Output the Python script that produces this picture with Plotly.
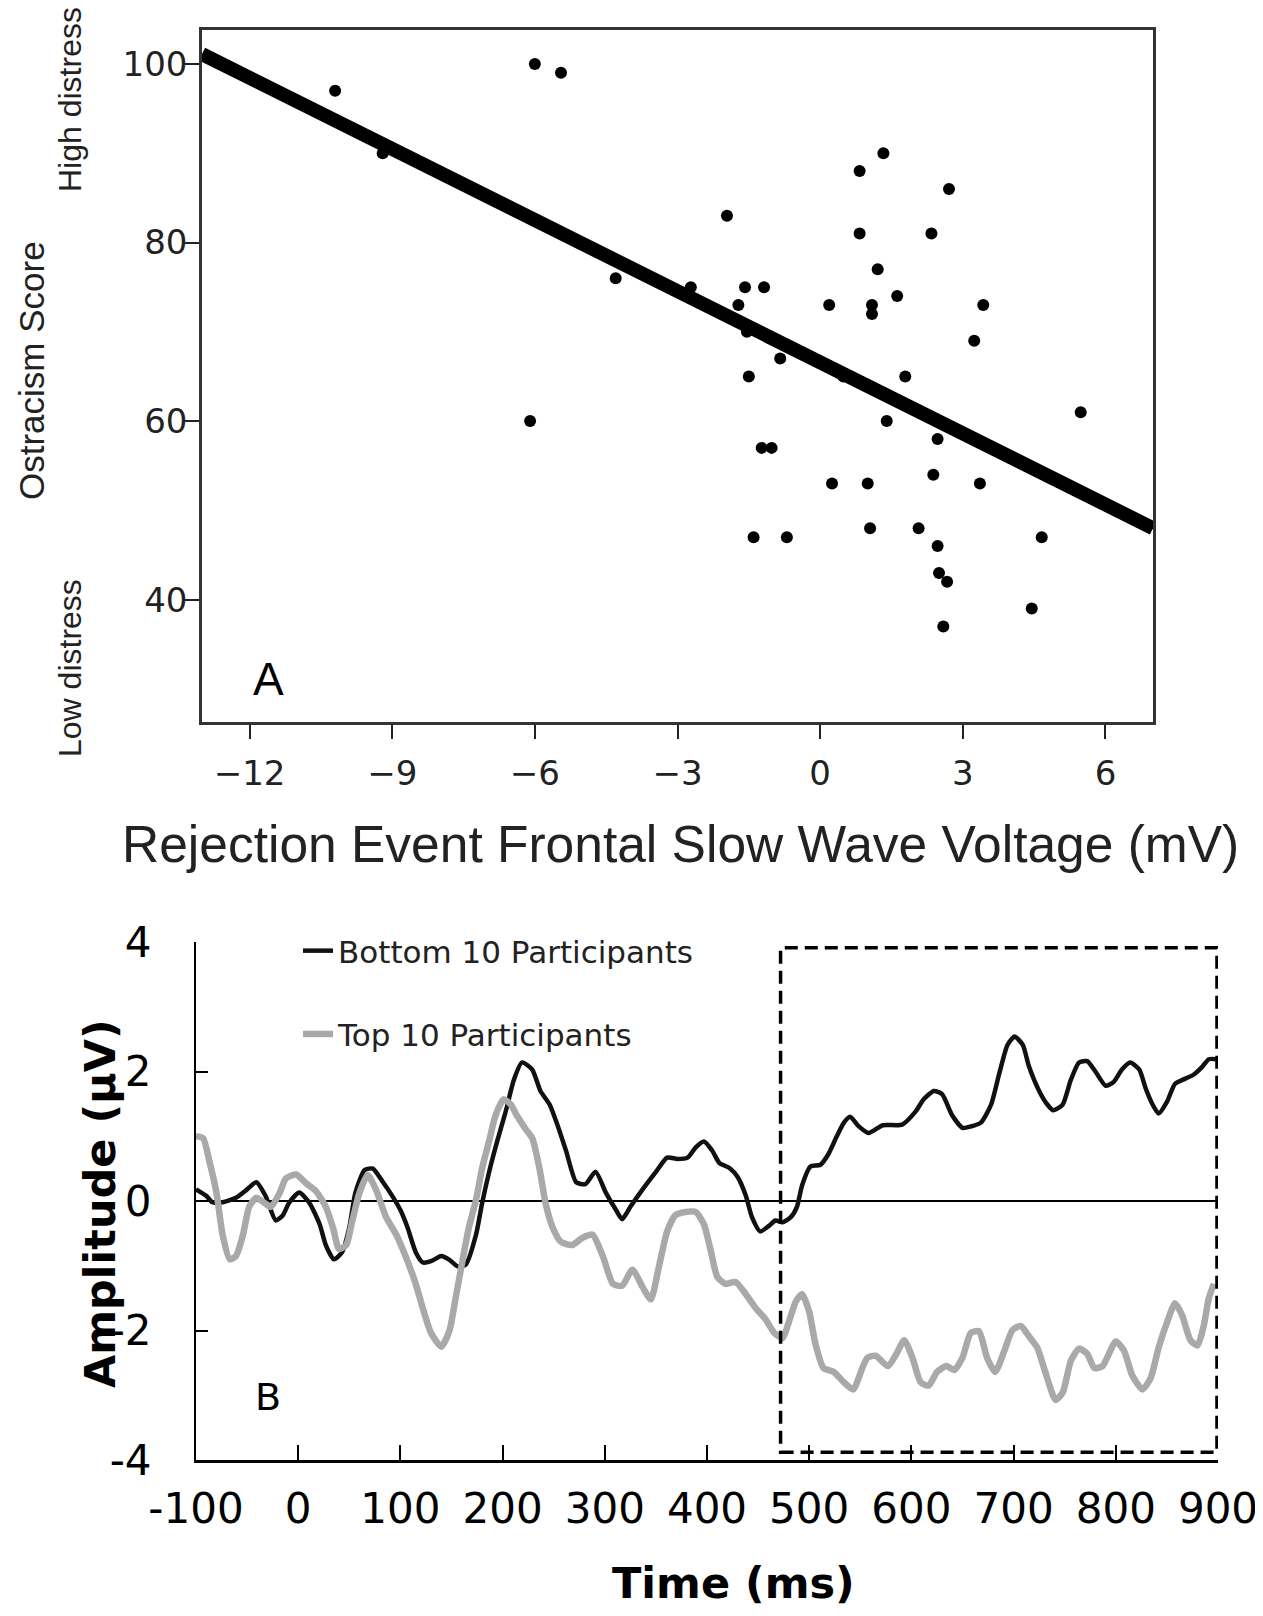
import plotly.graph_objects as go

# ---------------- Panel A data ----------------
voltage = [-10.2, -9.2, -6.0, -5.45, -4.3, -2.72, -1.96, 1.33, 0.83, 2.71, 0.83, 2.34, 1.21,
           -1.58, -1.18, -1.72, 0.19, 1.09, 1.09, 1.62, 3.43, 3.24, -1.54, -0.84, -1.5, 1.79,
           0.49, 5.48, 1.40, 2.47, -1.23, -1.02, 0.25, 1.0, 2.38, 3.36, 1.05, 2.07, -1.40,
           -0.70, 4.66, 2.47, 2.5, 2.67, 4.45, 2.59, -6.1]
score = [97, 90, 100, 99, 76, 75, 83, 90, 88, 86, 81, 81, 77,
         75, 75, 73, 73, 73, 72, 74, 73, 69, 70, 67, 65, 65,
         65, 61, 60, 58, 57, 57, 53, 53, 54, 53, 48, 48, 47,
         47, 47, 46, 43, 42, 39, 37, 60]
fit_x = [-13, 7]
fit_y = [101.1, 48.0]
a_xticks = [-12, -9, -6, -3, 0, 3, 6]
a_yticks = [40, 60, 80, 100]

# ---------------- Panel B data ----------------
bottom_t = [-100, -90, -84, -74, -61, -50, -41, -32, -22, -15, -9, 1, 11, 21, 27, 35, 43, 50, 56,
            65, 73, 83, 92, 100, 107, 115, 122, 130, 140, 148, 156, 164, 174, 180, 187, 195, 203,
            211, 219, 229, 237, 246, 254, 262, 272, 281, 291, 301, 311, 317, 325, 337, 350, 361,
            371, 381, 389, 397, 405, 412, 422, 430, 438, 444, 452, 461, 467, 474, 482, 488, 493,
            501, 511, 519, 527, 534, 540, 548, 558, 572, 591, 604, 612, 622, 630, 640, 650, 658,
            668, 678, 686, 694, 701, 709, 715, 725, 733, 739, 748, 756, 764, 772, 780, 790, 798,
            806, 814, 823, 829, 836, 842, 850, 858, 868, 876, 885, 891, 898]
bottom_v = [0.18, 0.08, -0.02, -0.02, 0.05, 0.18, 0.29, 0.08, -0.30, -0.22, -0.03, 0.13, -0.03,
            -0.36, -0.68, -0.90, -0.79, -0.41, 0.13, 0.48, 0.50, 0.29, 0.08, -0.14, -0.41, -0.79,
            -0.95, -0.93, -0.85, -0.91, -1.01, -0.98, -0.52, -0.03, 0.46, 0.94, 1.38, 1.87, 2.14,
            2.03, 1.70, 1.49, 1.16, 0.78, 0.29, 0.26, 0.45, 0.13, -0.14, -0.28, -0.09, 0.18, 0.45,
            0.67, 0.65, 0.67, 0.83, 0.92, 0.78, 0.59, 0.51, 0.37, 0.08, -0.25, -0.47, -0.38, -0.30,
            -0.33, -0.25, -0.09, 0.24, 0.53, 0.56, 0.73, 1.00, 1.21, 1.30, 1.16, 1.05, 1.17, 1.18,
            1.38, 1.57, 1.70, 1.65, 1.32, 1.13, 1.15, 1.21, 1.49, 1.97, 2.41, 2.54, 2.41, 2.08,
            1.70, 1.49, 1.40, 1.49, 1.87, 2.14, 2.16, 2.00, 1.78, 1.84, 2.03, 2.14, 2.03, 1.75,
            1.49, 1.35, 1.53, 1.81, 1.89, 1.95, 2.08, 2.19, 2.19]

top_t = [-100, -93, -87, -80, -74, -67, -61, -54, -48, -41, -33, -27, -18, -12, -2, 8, 17, 27, 34,
         40, 47, 53, 60, 68, 76, 86, 96, 105, 115, 122, 130, 140, 148, 154, 161, 167, 174, 180,
         187, 193, 201, 208, 214, 223, 229, 236, 242, 249, 257, 268, 278, 288, 298, 308, 317,
         327, 337, 345, 353, 361, 369, 379, 389, 397, 404, 410, 418, 428, 438, 448, 457, 466,
         474, 480, 487, 493, 500, 506, 514, 524, 534, 543, 552, 557, 565, 577, 585, 593, 601,
         609, 617, 625, 634, 642, 650, 658, 666, 674, 682, 691, 699, 707, 715, 723, 731, 741,
         748, 756, 764, 772, 779, 787, 800, 808, 816, 826, 834, 842, 850, 858, 865, 873, 880,
         886, 891, 896]
top_v = [1.00, 0.97, 0.62, 0.13, -0.52, -0.90, -0.85, -0.52, -0.09, 0.05, -0.03, -0.09, 0.13,
         0.35, 0.41, 0.27, 0.16, -0.09, -0.41, -0.74, -0.68, -0.30, 0.13, 0.40, 0.18, -0.25,
         -0.52, -0.85, -1.28, -1.66, -2.04, -2.25, -2.00, -1.50, -0.90, -0.41, 0.02, 0.51, 0.94,
         1.32, 1.57, 1.49, 1.32, 1.10, 0.97, 0.51, -0.03, -0.41, -0.63, -0.68, -0.57, -0.52,
         -0.85, -1.28, -1.31, -1.06, -1.33, -1.52, -1.01, -0.47, -0.22, -0.17, -0.17, -0.36,
         -0.79, -1.17, -1.28, -1.25, -1.44, -1.66, -1.82, -2.04, -2.12, -1.87, -1.55, -1.44,
         -1.71, -2.20, -2.58, -2.64, -2.80, -2.91, -2.58, -2.42, -2.39, -2.55, -2.37, -2.15,
         -2.42, -2.80, -2.85, -2.64, -2.55, -2.61, -2.42, -2.04, -2.01, -2.42, -2.64, -2.31,
         -1.99, -1.93, -2.09, -2.26, -2.64, -3.07, -2.96, -2.47, -2.28, -2.36, -2.58, -2.55,
         -2.17, -2.31, -2.69, -2.91, -2.74, -2.26, -1.88, -1.58, -1.77, -2.15, -2.23, -1.93,
         -1.50, -1.28]

window_t = [472, 899]
window_v = [-3.88, 3.91]

b_xticks = [-100, 0, 100, 200, 300, 400, 500, 600, 700, 800, 900]
b_xlabels = ["-100", "0", "100", "200", "300", "400", "500", "600", "700", "800", "900"]
b_yticks = [-4, -2, 0, 2, 4]
b_ylabels = ["-4", "-2", "0", "2", "4"]

W, H = 1263, 1616
OX, OY = 8, 8  # page body margin offset


def fx(px):
    return (px - OX) / W


def fy(py):
    return 1 - (py - OY) / H


SANS = "Liberation Sans, Arial, sans-serif"
DEJA = "DejaVu Sans, Verdana, sans-serif"

fig = go.Figure()

# Panel A
fig.add_trace(go.Scatter(x=fit_x, y=fit_y, mode="lines", line=dict(color="black", width=14),
                         showlegend=False, xaxis="x", yaxis="y", hoverinfo="skip"))
fig.add_trace(go.Scatter(x=voltage, y=score, mode="markers",
                         marker=dict(color="black", size=12), showlegend=False,
                         xaxis="x", yaxis="y"))

# Panel B
fig.add_trace(go.Scatter(x=bottom_t, y=bottom_v, mode="lines", name="Bottom 10 Participants",
                         line=dict(color="#111111", width=4.5, shape="spline", smoothing=0.6),
                         legendgroup="b", xaxis="x2", yaxis="y2"))
fig.add_trace(go.Scatter(x=top_t, y=top_v, mode="lines", name="Top 10 Participants",
                         line=dict(color="#a9a9a9", width=6.5, shape="spline", smoothing=0.6),
                         legendgroup="t", xaxis="x2", yaxis="y2"))

fig.add_shape(type="rect", xref="x2", yref="y2", x0=window_t[0], x1=window_t[1],
              y0=window_v[0], y1=window_v[1],
              line=dict(color="black", width=3.5, dash="13px,7px"), fillcolor="rgba(0,0,0,0)")

fig.update_layout(
    width=W, height=H,
    margin=dict(l=0, r=0, t=0, b=0, autoexpand=False),
    paper_bgcolor="white", plot_bgcolor="white",
    font=dict(family=DEJA, color="#111"),
    xaxis=dict(domain=[fx(202), fx(1153)], anchor="y", range=[-13, 7], tickvals=a_xticks,
               ticks="outside", ticklen=14, tickwidth=2, tickcolor="#222",
               showline=True, linecolor="#333", linewidth=2.5, mirror=True,
               showgrid=False, zeroline=False, ticklabelstandoff=5, automargin=False,
               tickfont=dict(family=DEJA, size=34, color="#222")),
    yaxis=dict(domain=[fy(722), fy(30)], anchor="x", range=[26.3, 103.8],
               tickvals=a_yticks, ticks="outside", ticklen=14, tickwidth=2, tickcolor="#222",
               showline=True, linecolor="#333", linewidth=2.5, mirror=True,
               showgrid=False, zeroline=False, ticklabelstandoff=-9, automargin=False,
               tickfont=dict(family=DEJA, size=34, color="#222")),
    xaxis2=dict(domain=[fx(196), fx(1218)], anchor="y2", range=[-100, 900],
                tickvals=b_xticks, ticktext=b_xlabels, ticks="inside", ticklen=15,
                tickwidth=1.5, tickcolor="black", showline=True, linecolor="black",
                linewidth=2.5, showgrid=False, zeroline=False, ticklabelstandoff=10,
                automargin=False,
                tickfont=dict(family=DEJA, size=42, color="black")),
    yaxis2=dict(domain=[fy(1460), fy(942)], anchor="x2", range=[-4, 4],
                tickvals=b_yticks, ticktext=b_ylabels, ticks="inside", ticklen=12,
                tickwidth=1.5, tickcolor="black", showline=True, linecolor="black",
                linewidth=2, showgrid=False, zeroline=True, zerolinecolor="black",
                zerolinewidth=1.5, ticklabelstandoff=34, automargin=False,
                tickfont=dict(family=DEJA, size=42, color="black")),
    legend=dict(x=fx(298), y=fy(924), xanchor="left", yanchor="top",
                font=dict(family=DEJA, size=31, color="#222"),
                bgcolor="rgba(0,0,0,0)", tracegroupgap=40, itemwidth=30),
    showlegend=True,
)

ann = [
    dict(text="Ostracism Score", px=31, py=371, textangle=-90,
         font=dict(family=SANS, size=35, color="#222")),
    dict(text="High distress", px=70, py=100, textangle=-90,
         font=dict(family=SANS, size=32, color="#222")),
    dict(text="Low distress", px=70, py=668, textangle=-90,
         font=dict(family=SANS, size=32, color="#222")),
    dict(text="Rejection Event Frontal Slow Wave Voltage (mV)", px=680, py=844,
         font=dict(family=SANS, size=51.5, color="#222")),
    dict(text="A", px=268, py=679, font=dict(family=SANS, size=46, color="black")),
    dict(text="B", px=268, py=1397, font=dict(family=DEJA, size=38, color="black")),
    dict(text="<b>Amplitude (µV)</b>", px=100, py=1204, textangle=-90,
         font=dict(family=DEJA, size=43, color="black")),
    dict(text="<b>Time (ms)</b>", px=733, py=1583,
         font=dict(family=DEJA, size=43, color="black")),
]
annotations = []
for a in ann:
    px, py = a.pop("px"), a.pop("py")
    a.update(x=fx(px), y=fy(py), xref="paper", yref="paper", showarrow=False,
             xanchor="center", yanchor="middle")
    annotations.append(a)
fig.update_layout(annotations=annotations)

fig.write_html("out.html")
